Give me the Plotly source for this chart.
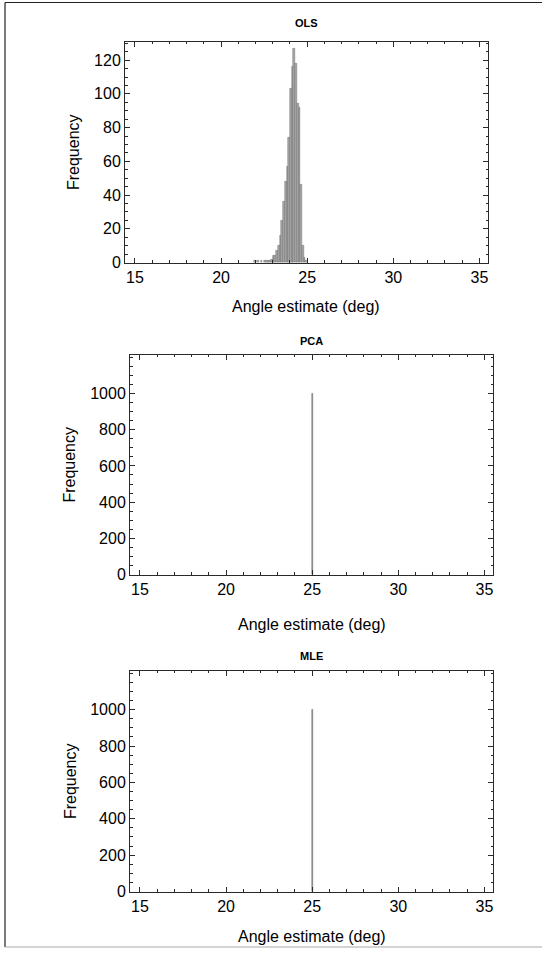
import plotly.graph_objects as go

# ---------------- data ----------------
ols_centers = [21.95, 22.15, 22.35, 22.55, 22.65, 22.75, 22.85, 22.95,
               23.05, 23.15, 23.25, 23.35, 23.45, 23.55, 23.65, 23.75, 23.85, 23.95,
               24.05, 24.15, 24.25, 24.35, 24.45, 24.55, 24.65, 24.75, 24.85, 24.95]
ols_counts = [1, 1, 1, 1, 1, 1, 1, 2,
              4, 4, 7, 10, 16, 25, 36, 48, 57, 74,
              103, 116, 127, 118, 94, 92, 46, 10, 3, 1]
ols_bin_width = 0.1

pca_centers = [25.0]
pca_counts = [1000]
mle_centers = [25.0]
mle_counts = [1000]
spike_width = 0.06

panel_titles = ["OLS", "PCA", "MLE"]
x_title = "Angle estimate (deg)"
y_title = "Frequency"
x_ticks = [15, 20, 25, 30, 35]
ols_y_ticks = [0, 20, 40, 60, 80, 100, 120]
big_y_ticks = [0, 200, 400, 600, 800, 1000]

W, H = 542, 957

def px(x):
    return x / W

def py(y):
    return 1 - y / H

# panel boxes in pixels: (left, right, top, bottom)
boxes = [(125, 488, 42, 265), (130, 493, 358, 580), (130, 493, 677, 900)]
y_ranges = [[0, 131], [0, 1215], [0, 1215]]
x_ranges = [[14.42, 35.5], [14.42, 35.5], [14.42, 35.5]]

fig = go.Figure()

fig.add_trace(go.Bar(x=ols_centers, y=ols_counts, width=ols_bin_width,
                     marker=dict(color="#a8a8a8", line=dict(color="#6e6e6e", width=0.5)),
                     xaxis="x", yaxis="y", showlegend=False))
fig.add_trace(go.Bar(x=pca_centers, y=pca_counts, width=spike_width,
                     marker=dict(color="#808080", line=dict(color="#777777", width=0.5)),
                     xaxis="x2", yaxis="y2", showlegend=False))
fig.add_trace(go.Bar(x=mle_centers, y=mle_counts, width=spike_width,
                     marker=dict(color="#808080", line=dict(color="#777777", width=0.5)),
                     xaxis="x3", yaxis="y3", showlegend=False))

font = dict(family="Liberation Sans, Arial, sans-serif", size=16, color="#000")
frame_col = "#2a2a2a"

layout = dict(
    width=W, height=H, margin=dict(l=0, r=0, t=0, b=0),
    paper_bgcolor="white", plot_bgcolor="white", font=font,
    bargap=0, showlegend=False,
)

for i, (l, r, t, b) in enumerate(boxes):
    sfx = "" if i == 0 else str(i + 1)
    yticks = ols_y_ticks if i == 0 else big_y_ticks
    ymin_dt = 5 if i == 0 else 50
    layout["xaxis" + sfx] = dict(
        domain=[px(l), px(r)], anchor="y" + sfx, range=x_ranges[i],
        tickmode="array", tickvals=x_ticks, ticks="inside", ticklen=5, tickwidth=1,
        tickcolor=frame_col, showline=True, linecolor=frame_col, linewidth=1,
        mirror="allticks", showgrid=False, zeroline=False,
        minor=dict(dtick=1, tick0=15, ticks="inside", ticklen=2.5, tickcolor=frame_col, showgrid=False),
        tickfont=font,
    )
    layout["yaxis" + sfx] = dict(
        domain=[py(b), py(t)], anchor="x" + sfx, range=y_ranges[i],
        tickmode="array", tickvals=yticks, ticks="inside", ticklen=5, tickwidth=1,
        tickcolor=frame_col, showline=True, linecolor=frame_col, linewidth=1,
        mirror="allticks", showgrid=False, zeroline=False,
        minor=dict(dtick=ymin_dt, tick0=0, ticks="inside", ticklen=2.5, tickcolor=frame_col, showgrid=False),
        tickfont=font,
    )

fig.update_layout(**layout)

annotations = []
title_y = [23, 344, 662]
xlab_y = [309, 630, 945]
ylab_x = [73, 70, 70]
for i, (l, r, t, b) in enumerate(boxes):
    cx = (l + r) / 2
    annotations.append(dict(text="<b>%s</b>" % panel_titles[i], x=px(cx), y=py(title_y[i]),
                            xref="paper", yref="paper", showarrow=False,
                            font=dict(family="Liberation Sans, Arial, sans-serif", size=11, color="#000"),
                            xanchor="center", yanchor="middle"))
    annotations.append(dict(text=x_title, x=px(cx), y=py(xlab_y[i]),
                            xref="paper", yref="paper", showarrow=False, font=font,
                            xanchor="center", yanchor="middle"))
    annotations.append(dict(text=y_title, x=px(ylab_x[i]), y=py((t + b) / 2),
                            xref="paper", yref="paper", showarrow=False, font=font,
                            textangle=-90, xanchor="center", yanchor="middle"))
fig.update_layout(annotations=annotations)

# outer image frame
fig.add_shape(type="line", xref="paper", yref="paper", x0=px(5), x1=1, y0=py(2.5), y1=py(2.5),
              line=dict(color="#222", width=1.2))
fig.add_shape(type="line", xref="paper", yref="paper", x0=px(5), x1=px(5), y0=py(2.5), y1=py(956),
              line=dict(color="#222", width=1.2))
fig.add_shape(type="line", xref="paper", yref="paper", x0=px(5), x1=1, y0=py(956), y1=py(956),
              line=dict(color="#aaa", width=1.2))

fig.write_html("out.html")
